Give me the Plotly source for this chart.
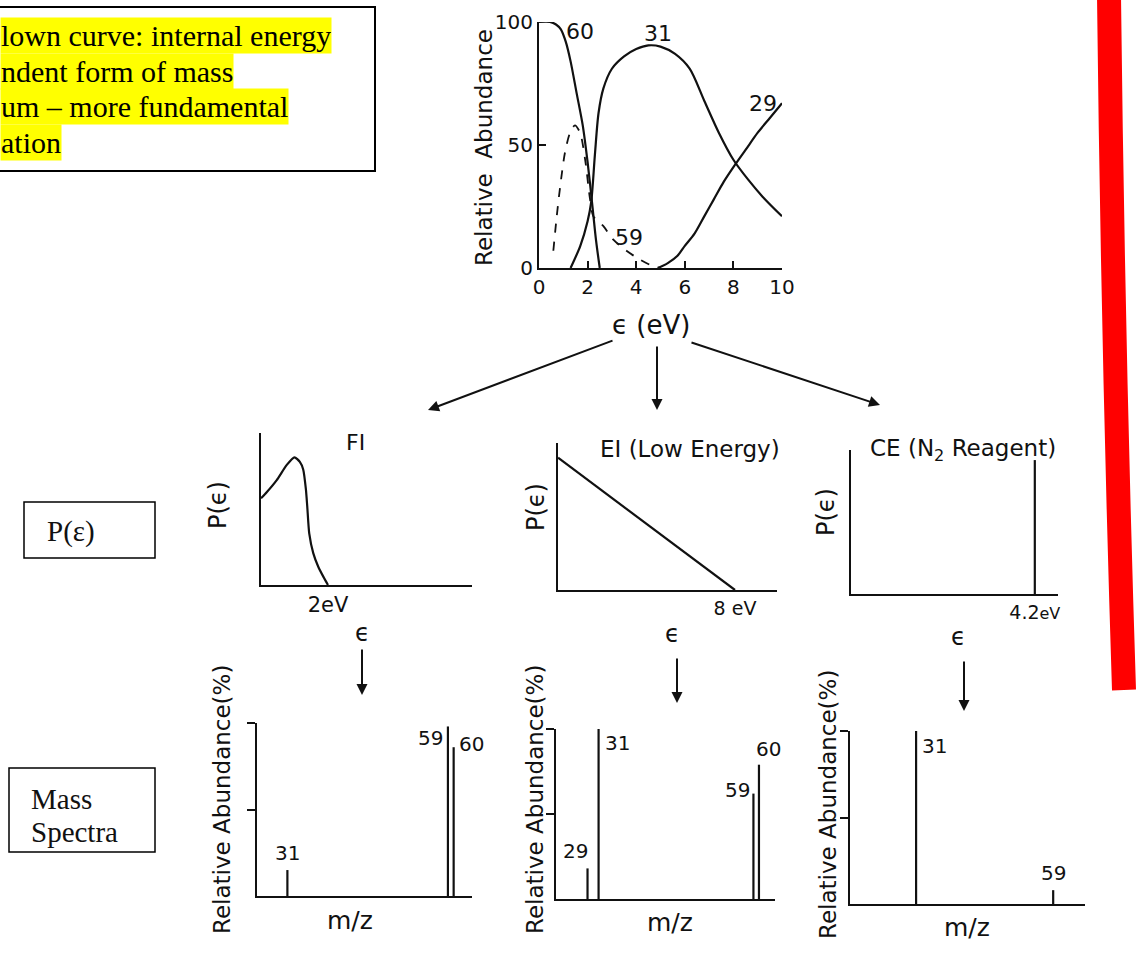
import plotly.graph_objects as go

W, H = 1138, 954

# ---------------- data ----------------
# breakdown curves (top panel)
eps_60 = [0, 0.45, 0.7, 0.9, 1.1, 1.3, 1.55, 1.8, 2.0, 2.2, 2.35, 2.5]
ab_60 = [100, 100, 99, 97, 92, 84, 71, 58, 43, 25, 11, 0]
eps_31 = [1.3, 1.7, 2.0, 2.15, 2.3, 2.45, 2.65, 3.0, 3.5, 4.0, 4.5, 5.0, 5.6, 6.2, 6.8, 7.4, 8.0, 8.6, 9.2, 10]
ab_31 = [0, 9, 19, 27, 46, 63, 73, 81, 86, 89, 90.5, 90, 87, 81, 68, 55, 44, 36, 29, 21]
eps_29 = [4.9, 5.3, 5.7, 6.0, 6.4, 6.8, 7.2, 7.6, 8.0, 8.5, 9.0, 9.5, 10]
ab_29 = [0, 2, 5, 9, 14, 21, 28, 35, 41, 48, 55, 61, 67]
eps_59 = [0.59, 0.73, 0.87, 1.07, 1.28, 1.48, 1.69, 1.9, 2.1, 2.24, 2.65, 3.06, 3.6, 4.16, 4.7, 5.0]
ab_59 = [7, 21, 33, 47, 55, 58, 55, 44, 28, 21, 17, 11.5, 7, 3.4, 0.7, 0]
curve_labels = ["60", "31", "29", "59"]
curve_label_pos = [(1.7, 96), (4.9, 95.5), (9.2, 67), (3.7, 12.5)]
top_xticks = [0, 2, 4, 6, 8, 10]
top_yticks = [0, 50, 100]

# internal-energy distributions P(eps)
fi_eps = [0, 0.17, 0.47, 0.77, 1.0, 1.16, 1.26, 1.34, 1.38, 1.44, 1.56, 1.71, 1.86, 2.0]
fi_p = [0.57, 0.61, 0.69, 0.79, 0.84, 0.81, 0.76, 0.63, 0.52, 0.34, 0.21, 0.12, 0.055, 0]
ei_eps = [0, 8]
ei_p = [0.9, 0]
ce_eps = [4.2, 4.2]
ce_p = [0, 0.93]

# mass spectra
fi_mz = [31, 59, 60]
fi_ab = [15, 98, 86]
ei_mz = [29, 31, 59, 60]
ei_ab = [18, 100, 62, 79]
ce_mz = [31, 59]
ce_ab = [100, 8]

FONT = "DejaVu Sans"
SERIF = "Liberation Serif"
INK = "#111111"


def dom_x(a, b):
    return [a / W, b / W]


def dom_y(top, bottom):
    return [1 - bottom / H, 1 - top / H]


def px(x):
    return x / W


def py(y):
    return 1 - y / H


fig = go.Figure()

# ---- top panel curves
fig.add_trace(go.Scatter(x=eps_60, y=ab_60, mode="lines", line=dict(color=INK, width=2.2, shape="spline", smoothing=0.8), xaxis="x", yaxis="y"))
fig.add_trace(go.Scatter(x=eps_31, y=ab_31, mode="lines", line=dict(color=INK, width=2.2, shape="spline", smoothing=0.8), xaxis="x", yaxis="y"))
fig.add_trace(go.Scatter(x=eps_29, y=ab_29, mode="lines", line=dict(color=INK, width=2.2, shape="spline", smoothing=0.8), xaxis="x", yaxis="y"))
fig.add_trace(go.Scatter(x=eps_59, y=ab_59, mode="lines", line=dict(color=INK, width=1.8, dash="dash", shape="spline", smoothing=0.8), xaxis="x", yaxis="y"))

# ---- P(eps) panels
fig.add_trace(go.Scatter(x=fi_eps, y=fi_p, mode="lines", line=dict(color=INK, width=2.2, shape="spline", smoothing=0.6), xaxis="x2", yaxis="y2"))
fig.add_trace(go.Scatter(x=ei_eps, y=ei_p, mode="lines", line=dict(color=INK, width=2.2), xaxis="x3", yaxis="y3"))
fig.add_trace(go.Scatter(x=ce_eps, y=ce_p, mode="lines", line=dict(color=INK, width=2.2), xaxis="x4", yaxis="y4"))


def sticks(mz, ab):
    xs, ys = [], []
    for m, a in zip(mz, ab):
        xs += [m, m, None]
        ys += [0, a, None]
    return xs, ys


for mz, ab, xa, ya in [(fi_mz, fi_ab, "x5", "y5"), (ei_mz, ei_ab, "x6", "y6"), (ce_mz, ce_ab, "x7", "y7")]:
    xs, ys = sticks(mz, ab)
    fig.add_trace(go.Scatter(x=xs, y=ys, mode="lines", line=dict(color=INK, width=2.2), xaxis=xa, yaxis=ya))

axis_common = dict(showline=True, linecolor=INK, linewidth=2, showgrid=False, zeroline=False,
                   tickfont=dict(family=FONT, size=20, color=INK))
small_tick = dict(family=FONT, size=19, color=INK)

layout = dict(
    width=W, height=H, margin=dict(l=0, r=0, t=0, b=0),
    paper_bgcolor="white", plot_bgcolor="rgba(0,0,0,0)", showlegend=False,
    template="none",
    xaxis=dict(domain=dom_x(539, 782), range=[0, 10], tickvals=top_xticks, ticks="inside", ticklen=7,
               tickwidth=2, tickcolor=INK, anchor="y", **axis_common),
    yaxis=dict(domain=dom_y(22, 268), range=[0, 100], tickvals=top_yticks, ticks="inside", ticklen=7,
               tickwidth=2, tickcolor=INK, anchor="x", **axis_common),
    xaxis2=dict(domain=dom_x(261, 472), range=[0, 6.3], tickvals=[2], ticktext=["2eV"], ticks="", anchor="y2",
                **{**axis_common, "tickfont": dict(family=FONT, size=21, color=INK)}),
    yaxis2=dict(domain=dom_y(433, 585), range=[0, 1], showticklabels=False, ticks="", anchor="x2", **axis_common),
    xaxis3=dict(domain=dom_x(558, 777), range=[0, 9.9], tickvals=[8], ticktext=["8 eV"], ticks="", anchor="y3",
                **{**axis_common, "tickfont": small_tick}),
    yaxis3=dict(domain=dom_y(443, 590), range=[0, 1], showticklabels=False, ticks="", anchor="x3", **axis_common),
    xaxis4=dict(domain=dom_x(851, 1058), range=[0, 4.73], tickvals=[4.2],
                ticktext=["4.2<span style='font-size:16px'>eV</span>"], ticks="", anchor="y4",
                **{**axis_common, "tickfont": small_tick}),
    yaxis4=dict(domain=dom_y(450, 594), range=[0, 1], showticklabels=False, ticks="", anchor="x4", **axis_common),
    xaxis5=dict(domain=dom_x(257, 472), range=[25.7, 63.2], showticklabels=False, ticks="", anchor="y5", **axis_common),
    yaxis5=dict(domain=dom_y(723, 896), range=[0, 100], tickvals=[50, 100], ticks="outside", ticklen=8, tickwidth=2,
                tickcolor=INK, showticklabels=False, anchor="x5", **axis_common),
    xaxis6=dict(domain=dom_x(556, 775), range=[23.3, 62.9], showticklabels=False, ticks="", anchor="y6", **axis_common),
    yaxis6=dict(domain=dom_y(729, 899), range=[0, 100], tickvals=[50, 100], ticks="outside", ticklen=8, tickwidth=2,
                tickcolor=INK, showticklabels=False, anchor="x6", **axis_common),
    xaxis7=dict(domain=dom_x(850, 1085), range=[17.5, 65.5], showticklabels=False, ticks="", anchor="y7", **axis_common),
    yaxis7=dict(domain=dom_y(731, 904), range=[0, 100], tickvals=[50, 100], ticks="outside", ticklen=8, tickwidth=2,
                tickcolor=INK, showticklabels=False, anchor="x7", **axis_common),
)
fig.update_layout(**layout)

ann = []


def txt(x, y, s, size=20, angle=0, family=FONT, xanchor="center", yanchor="middle", **kw):
    ann.append(dict(x=px(x), y=py(y), xref="paper", yref="paper", text=s, showarrow=False,
                    font=dict(family=family, size=size, color=INK), textangle=angle,
                    xanchor=xanchor, yanchor=yanchor, **kw))


# top panel labels
for lab, (cx, cy) in zip(curve_labels, curve_label_pos):
    ann.append(dict(x=cx, y=cy, xref="x", yref="y", text=lab, showarrow=False,
                    font=dict(family=FONT, size=22, color=INK)))
txt(484, 148, "Relative  Abundance", size=23, angle=-90)
txt(651, 325, "ϵ (eV)", size=26)

# P(eps) panel labels
txt(355, 442, "FI", size=22)
txt(690, 449, "EI (Low Energy)", size=23)
txt(868, 450, "CE (N<sub>2</sub> Reagent)", size=23, xanchor="left")
txt(218, 505, "P(ϵ)", size=24, angle=-90)
txt(536, 507, "P(ϵ)", size=24, angle=-90)
txt(826, 512, "P(ϵ)", size=24, angle=-90)
txt(362, 633, "ϵ", size=24)
txt(672, 634, "ϵ", size=24)
txt(958, 637, "ϵ", size=24)

# mass spectra labels
txt(222, 800, "Relative Abundance(%)", size=23, angle=-90)
txt(535, 800, "Relative Abundance(%)", size=23, angle=-90)
txt(828, 805, "Relative Abundance(%)", size=23, angle=-90)
txt(350, 920, "m/z", size=25)
txt(670, 922, "m/z", size=25)
txt(967, 927, "m/z", size=25)

# peak labels (from data)
peak_style = {
    ("x5", 31): dict(xanchor="center", yanchor="bottom", xshift=0, yshift=3),
    ("x5", 59): dict(xanchor="right", yanchor="top", xshift=-3, yshift=2),
    ("x5", 60): dict(xanchor="left", yanchor="top", xshift=3, yshift=17),
    ("x6", 29): dict(xanchor="right", yanchor="bottom", xshift=2, yshift=3),
    ("x6", 31): dict(xanchor="left", yanchor="top", xshift=4, yshift=0),
    ("x6", 59): dict(xanchor="right", yanchor="middle", xshift=-1, yshift=4),
    ("x6", 60): dict(xanchor="center", yanchor="bottom", xshift=10, yshift=2),
    ("x7", 31): dict(xanchor="left", yanchor="top", xshift=4, yshift=-1),
    ("x7", 59): dict(xanchor="center", yanchor="bottom", xshift=0, yshift=3),
}
for mz, ab, xa, ya in [(fi_mz, fi_ab, "x5", "y5"), (ei_mz, ei_ab, "x6", "y6"), (ce_mz, ce_ab, "x7", "y7")]:
    for m, a in zip(mz, ab):
        st = peak_style[(xa, m)]
        ann.append(dict(x=m, y=a, xref=xa, yref=ya, text=str(m), showarrow=False,
                        font=dict(family=FONT, size=20, color=INK), **st))


# arrows
def arrow(x0, y0, x1, y1):
    ann.append(dict(x=px(x1), y=py(y1), xref="paper", yref="paper", ax=x0 - x1, ay=y0 - y1,
                    axref="pixel", ayref="pixel", text="", showarrow=True, arrowhead=2,
                    arrowsize=1.1, arrowwidth=2, arrowcolor=INK))


arrow(614, 340, 428, 410)
arrow(657, 345, 657, 410)
arrow(690, 342, 880, 405)
arrow(362, 648, 362, 695)
arrow(677, 657, 677, 703)
arrow(964, 660, 964, 711)

# left note box (highlighted text)
note_lines = ["lown curve: internal energy", "ndent form of mass", "um – more fundamental", "ation"]
note_y = [35.5, 71, 106.5, 142]
for line, yy in zip(note_lines, note_y):
    ann.append(dict(x=0, y=py(yy), xref="paper", yref="paper", text=line, showarrow=False,
                    font=dict(family=SERIF, size=30, color="black"), xanchor="left", yanchor="middle",
                    bgcolor="#ffff00", borderpad=0, height=35))

txt(45, 531, "P(ε)", size=29, family=SERIF, xanchor="left")
txt(29, 799, "Mass", size=29, family=SERIF, xanchor="left")
txt(29, 832, "Spectra", size=29, family=SERIF, xanchor="left")

fig.update_layout(annotations=ann)

NOFILL = "rgba(0,0,0,0)"
shapes = [
    dict(type="rect", xref="paper", yref="paper", x0=px(-10), x1=px(375), y0=py(171), y1=py(7),
         line=dict(color="black", width=2), fillcolor=NOFILL, opacity=1, layer="above"),
    dict(type="rect", xref="paper", yref="paper", x0=px(24), x1=px(155), y0=py(558), y1=py(502),
         line=dict(color="black", width=1.5), fillcolor=NOFILL, opacity=1),
    dict(type="rect", xref="paper", yref="paper", x0=px(9), x1=px(155), y0=py(852), y1=py(768),
         line=dict(color="black", width=1.5), fillcolor=NOFILL, opacity=1),
    dict(type="path", xref="paper", yref="paper",
         path=f"M {px(1109)},{py(-5)} Q {px(1113)},{py(350)} {px(1124)},{py(690)}",
         line=dict(color="#ff0000", width=24), fillcolor=NOFILL, opacity=1),
]
fig.update_layout(shapes=shapes)

fig.write_html("out.html")
